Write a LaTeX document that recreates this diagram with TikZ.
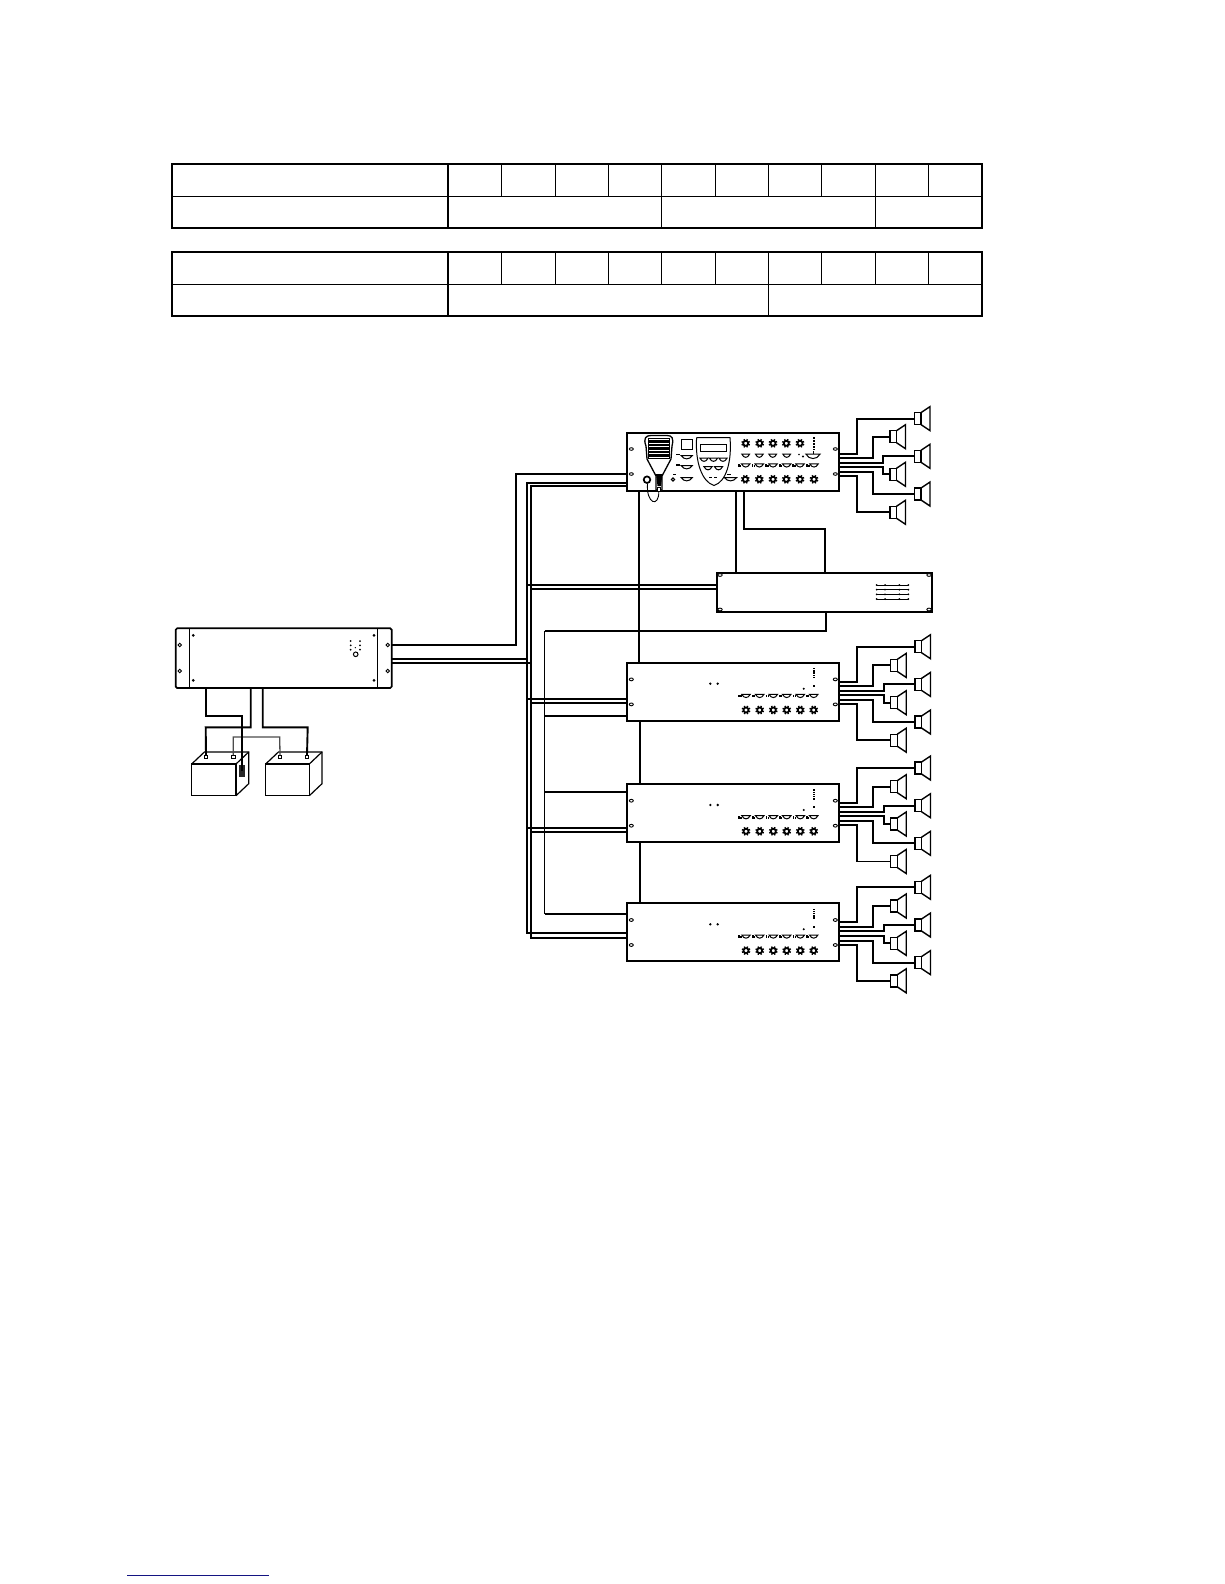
\documentclass[tikz,border=0pt]{standalone}
\usetikzlibrary{calc}
\tikzset{
  every node/.style={outer sep=0pt},
  frame/.style={line width=2pt,line cap=rect},
  inner rule/.style={line width=1.1pt},
  wire/.style={line width=1.9pt,line join=miter},
  thin wire/.style={line width=1.3pt},
  box/.style={draw,rectangle,line width=1.7pt,inner sep=0pt,anchor=north west,fill=white},
  spk/.style={draw,rectangle,line width=1.4pt,inner sep=0pt,minimum width=6.5pt,minimum height=12pt,fill=white},
  hole/.style={line width=.9pt,fill=white},
  knobring/.style={line width=1.7pt,fill=white},
  part/.style={line width=1pt},
}
% name, x-left of the rectangle, y
\newcommand{\speakerdraw}[3]{%
  \node[spk] (#1) at (#2+3.25,#3) {};
  \draw[line width=1.4pt,line join=miter] (#1.north east) -- ++(9,-6) -- ++(0,24) -- (#1.south east);
}
\newcommand{\knobdraw}[2]{%
  \foreach \a in {0,45,...,315}{\draw[line width=1.4pt] (#1,#2) ++(\a+22:2.4) -- ++(\a+22:2);}
  \draw[knobring] (#1,#2) circle (2.5);
}
\newcommand{\meterdraw}[3]{% x y halfwidth
  \draw[part] (#1-#3,#2-1.8) -- (#1+#3,#2-1.8) .. controls (#1+#3*.5,#2+2.4) and (#1-#3*.5,#2+2.4) .. cycle;
}
\newcommand{\ledmeter}[2]{%
  \fill (#1-7.6,#2-1.6) rectangle (#1-6,#2+1);
  \fill (#1-5.7,#2-.8) rectangle (#1-4.3,#2+1);
  \meterdraw{#1}{#2}{4.2}
}
\newcommand{\holes}[2]{% y-top, first offset
  \foreach \hx in {631.3,835.3}{
    \draw[hole] (\hx,#1+#2) ellipse (2 and 1.4);
    \draw[hole] (\hx,#1+#2+25) ellipse (2 and 1.4);
  }
}
\newcommand{\ampdetails}[1]{%
  \fill (710.3,#1+21) circle (1.3); \fill (717.7,#1+21) circle (1.3);
  \foreach \kx in {746,759.7,773.3,786.7,800.3,813.7}{
    \ledmeter{\kx}{#1+33.5}
    \knobdraw{\kx}{#1+47.3}
  }
  \fill (803.7,#1+26) circle (1.1);
  \foreach \dy in {6,8.2,10.4,12.6,14.8}{\fill (812.6,#1+\dy-.7) rectangle (814.8,#1+\dy+.7);}
  \fill (812.8,#1+22.2) rectangle (814.6,#1+24.4);
}
% name-prefix, y-top
\newcommand{\speakerset}[2]{%
  \speakerdraw{#1a}{915}{#2-16}
  \speakerdraw{#1b}{890.7}{#2+2.7}
  \speakerdraw{#1c}{915}{#2+21.7}
  \speakerdraw{#1d}{890.7}{#2+40}
  \speakerdraw{#1e}{915}{#2+59.3}
  \speakerdraw{#1f}{890.7}{#2+77.5}
  \draw[wire] (#1.north east |- 0,#2+19) -- (856.8,#2+19) |- (#1a.west);
  \draw[wire] (#1.north east |- 0,#2+23.3) -- (872.8,#2+23.3) |- (#1b.west);
  \draw[wire] (#1.north east |- 0,#2+28) -- (884,#2+28) |- (#1c.west);
  \draw[wire] (#1.north east |- 0,#2+32.3) -- (884,#2+32.3) |- (#1d.west);
  \draw[wire] (#1.north east |- 0,#2+37.3) -- (872.8,#2+37.3) |- (#1e.west);
  \draw[wire] (#1.north east |- 0,#2+41.3) -- (856.8,#2+41.3) |- (#1f.west);
}
\begin{document}
\begin{tikzpicture}[x=1pt,y=-1pt]
\useasboundingbox (0,0) rectangle (1224,1584);
\fill[white] (0,0) rectangle (1224,1584);

% ---- tables
\draw[inner rule] (171.6,196.3) -- (981.6,196.3);
\foreach \cx in {501.5,555.5,608.4,661.3,715.3,768.8,821.7,875.7,928.7}{\draw[inner rule] (\cx,164) -- (\cx,196.3);}
\foreach \cx in {661.3,875.7}{\draw[inner rule] (\cx,196.3) -- (\cx,227.7);}
\draw[frame] (171.6,164) rectangle (981.6,227.7);
\draw[frame] (448,164) -- (448,227.7);
\draw[inner rule] (171.6,284.7) -- (981.6,284.7);
\foreach \cx in {501.5,555.5,608.4,661.3,715.3,768.8,821.7,875.7,928.7}{\draw[inner rule] (\cx,252) -- (\cx,284.7);}
\draw[line width=.8pt] (768.8,284.7) -- (768.8,315.7);
\draw[frame] (171.6,252) rectangle (981.6,315.7);
\draw[frame] (448,252) -- (448,315.7);

% ---- equipment boxes
\node[box,minimum width=212pt,minimum height=58pt] (mix) at (627.3,433) {};
\node[box,minimum width=215.3pt,minimum height=39pt] (rack) at (717,572.7) {};
\node[box,minimum width=212pt,minimum height=58.3pt] (ampA) at (627.3,662.7) {};
\node[box,minimum width=212pt,minimum height=57.7pt] (ampB) at (627.3,784) {};
\node[box,minimum width=212pt,minimum height=57.7pt] (ampC) at (627.3,903.3) {};
\node[draw,rectangle,rounded corners=1.5pt,line width=1.7pt,inner sep=0pt,anchor=north west,minimum width=216pt,minimum height=59.7pt] (pwr) at (175.7,628.3) {};

% ---- signal and power wiring
\draw[wire] (pwr.north east |- 0,644.7) -- (516,644.7) |- (mix.west |- 0,474);
\draw[wire] (pwr.north east |- 0,659.3) -- (526.7,659.3);
\draw[wire] (pwr.north east |- 0,662.7) -- (530.7,662.7);
\draw[wire] (mix.west |- 0,483.3) -| (526.7,933.3) -- (ampC.west |- 0,933.3);
\draw[wire] (mix.west |- 0,486.3) -| (530.7,937.7) -- (ampC.west |- 0,937.7);
\draw[wire] (526.7,585) -- (rack.west |- 0,585);
\draw[wire] (530.7,589) -- (rack.west |- 0,589);
\draw[wire] (526.7,699) -- (ampA.west |- 0,699);
\draw[wire] (530.7,702.7) -- (ampA.west |- 0,702.7);
\draw[wire] (526.7,828) -- (ampB.west |- 0,828);
\draw[wire] (530.7,831.7) -- (ampB.west |- 0,831.7);
\draw[wire] (639.3,491) -- (ampA.north -| 639.3,0);
\draw[wire] (640,721) -- (ampB.north -| 640,0);
\draw[wire] (640,841.7) -- (ampC.north -| 640,0);
\draw[wire] (735.8,491) -- (rack.north -| 735.8,0);
\draw[wire] (744,491) |- (825,529) -- (rack.north -| 825,0);
\draw[wire] (rack.south -| 826,0) |- (544.7,630.7);
\draw[thin wire] (544.7,630.7) -- (544.7,913.7);
\draw[wire] (544.7,715.7) -- (ampA.west |- 0,715.7);
\draw[wire] (544.7,792) -- (626,792);
\draw[wire] (544.7,913.7) -- (626,913.7);

% ---- speakers
\speakerdraw{mixa}{914.5}{418.6}
\speakerdraw{mixb}{890}{436.7}
\speakerdraw{mixc}{914.5}{456.3}
\speakerdraw{mixd}{890}{474.3}
\speakerdraw{mixe}{914.5}{494}
\speakerdraw{mixf}{890}{512.3}
\draw[wire] (mix.north east |- 0,454.3) -- (857,454.3) |- (mixa.west);
\draw[wire] (mix.north east |- 0,458.3) -- (873,458.3) |- (mixb.west);
\draw[wire] (mix.north east |- 0,462.7) -- (883.3,462.7) |- (mixc.west);
\draw[wire] (mix.north east |- 0,466.7) -- (883.3,466.7) |- (mixd.west);
\draw[wire] (mix.north east |- 0,471.7) -- (873,471.7) |- (mixe.west);
\draw[wire] (mix.north east |- 0,475.7) -- (857,475.7) |- (mixf.west);
\speakerset{ampA}{662.7}
\speakerset{ampB}{784}
\speakerset{ampC}{903.3}

% ---- amplifier faces
\holes{662.7}{16.7}
\holes{784}{16.7}
\holes{903.3}{16.7}
\ampdetails{662.7}
\ampdetails{784}
\ampdetails{903.3}

% ---- rack unit face
\foreach \hx in {720,929}{\foreach \hy in {575,609.5}{\draw[hole] (\hx,\hy) ellipse (2.2 and 1.4);}}
\foreach \gy in {585,589.7,594.3,599}{
  \draw[line width=.8pt] (876.7,\gy) -- (908.3,\gy);
  \foreach \gx in {876.7,885,899.3,908.3}{\fill (\gx,\gy) circle (1);}
}

% ---- mixer face
\foreach \hx in {631.3,835.3}{
  \draw[hole] (\hx,449) ellipse (2 and 1.3);
  \draw[hole] (\hx,474) ellipse (2 and 1.3);
}
\foreach \kx in {745.7,759.7,773,786.3,800}{\knobdraw{\kx}{443.3}}
\foreach \kx in {745.3,759.3,773,786.3,800,814}{\knobdraw{\kx}{479.3}}
\foreach \kx in {745.7,759.3,772.7,786.7}{\meterdraw{\kx}{456}{3.8}}
\draw[part] (806,454.2) -- (820,454.2) .. controls (817,460) and (809,460) .. cycle;
\draw[part] (813.7,454) -- (813.7,451);
\fill (799,454.5) circle (.9); \fill (803,456.5) circle (1.1);
\foreach \kx in {745.7,759.3,773,786.7,800,814}{\ledmeter{\kx}{465.7}}
\foreach \dy in {438,441,444,447,449.5}{\fill (812.6,\dy-.8) rectangle (815,\dy+.8);}
% mixer central panel
\draw[part] (696.6,437.7) -- (730,437.7) .. controls (732,462) and (726,482) .. (714,485.5)
   .. controls (702,482) and (695,462) .. (696.6,437.7);
\draw[part] (700.3,444) rectangle (726.7,451.7);
\foreach \kx in {704,713.5,723}{\meterdraw{\kx}{460}{4}}
\foreach \kx in {708,718.5}{\meterdraw{\kx}{468.5}{4}}
\fill (708.5,476.5) rectangle (711.5,478); \fill (714,476.5) rectangle (717,478);
\meterdraw{730.5}{479.5}{6}
\fill (727,473.5) rectangle (731,475);
\draw[part] (681.5,439) rectangle (692.5,449.5);
\foreach \my in {457.5,467.5,479.5}{\meterdraw{686.7}{\my}{5.5}}
\fill (676,453.5) rectangle (680,455);
\fill (676,464) rectangle (680,465.5);
\fill (672.5,473.5) rectangle (675.5,475);
\draw[part] (673,479.5) circle (1.6);
% microphone
\draw[line width=1.3pt,fill=white] (646,446) .. controls (643,438) and (646,435.5) .. (651,435.5)
   -- (667,435.5) .. controls (672,435.5) and (674,438) .. (672,446)
   -- (671,459) -- (662,476) -- (662,490) -- (656,490) -- (656,476) -- (647,459) -- cycle;
\draw[line width=1pt,fill=white] (648.5,438.5) rectangle (669.5,458.5);
\foreach \my in {441.5,445,448.5,452,455.5}{\fill (649,\my-1.1) rectangle (669,\my+1.1);}
\fill (656,474) -- (662.5,474) -- (661,486) -- (657.5,486) -- cycle;
\draw[line width=.9pt,fill=white] (657.2,487) rectangle (660.5,491.5);
\draw[line width=1.7pt] (647,479.7) circle (3.3);
\draw[line width=.9pt] (647.5,483.5) .. controls (646,504) and (659,508) .. (658.8,491.5);

% ---- power unit face
\draw[line width=1.1pt] (189.3,628.3) -- (189.3,688);
\draw[line width=1.1pt] (377.3,628.3) -- (377.3,688);
\foreach \hx in {179.7,387.7}{\foreach \hy in {645,671}{\draw[hole] (\hx,\hy) circle (1.8);}}
\foreach \dx in {193.3,374}{\foreach \dy in {635.3,680.3}{\fill (\dx,\dy) circle (1.5);}}
\foreach \dx in {350.7,360}{\foreach \dy in {641,645.3,649.7}{\fill (\dx,\dy) circle (1);}}
\fill (355.3,647.7) circle (.7);
\draw[line width=1pt] (355.7,654.3) circle (2.3);

% ---- batteries
\foreach \bx/\bw/\bn in {191.7/44.3/batA,265.7/43.6/batB}{
  \node[draw,rectangle,line width=1.2pt,inner sep=0pt,anchor=north west,minimum width=\bw pt,minimum height=31.7pt] (\bn) at (\bx,764) {};
  \draw[line width=1.2pt,line join=miter] (\bn.north west) -- ++(12.7,-12) -- ++(\bw,0) -- ++(0,31.7) -- (\bn.south east);
  \draw[line width=1.2pt] (\bn.north east) -- ++(12.7,-12);
}
\fill[black!85] (239.3,765) rectangle (244.7,776.7);
\foreach \tx/\tn in {206/tA,233.3/tB,280/tC,307/tD}{
  \node[draw,rectangle,line width=.9pt,fill=white,minimum size=3.4pt,inner sep=0pt] (\tn) at (\tx,756.7) {};
}
\draw[wire,black!70,line width=1.3pt] (tB.north) |- (279.7,737) -- (tC.north);
\draw[wire] (205.7,688) |- (242,716) -- (242,771);
\draw[wire] (250.7,688) |- (205.7,727.3) -- (tA.north);
\draw[wire] (262.7,688) |- (307.7,727.3) -- (tD.north);

% ---- footer rule
\draw[draw={rgb,255:red,20;green,20;blue,130},line width=1.1pt] (127,1575.3) -- (269,1575.3);
\end{tikzpicture}
\end{document}
